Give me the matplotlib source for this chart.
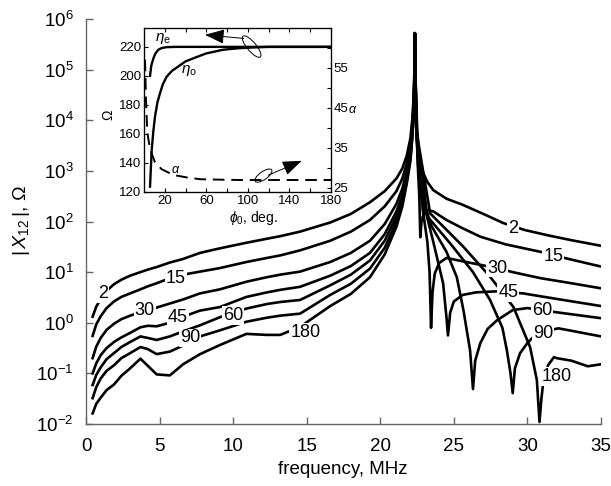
import numpy as np
import matplotlib
matplotlib.use("Agg")
import matplotlib.pyplot as plt
from matplotlib.patches import Ellipse
from matplotlib.transforms import ScaledTranslation
from matplotlib.ticker import FixedLocator, NullLocator, LogLocator

plt.rcParams['font.family'] = ['Liberation Sans', 'DejaVu Sans']
plt.rcParams['mathtext.fontset'] = 'custom'
plt.rcParams['mathtext.rm'] = 'Liberation Sans'
plt.rcParams['mathtext.it'] = 'Liberation Sans:italic'
plt.rcParams['mathtext.bf'] = 'Liberation Sans:bold'

# ---------------- data (frequency in MHz, log10 |X12| in log10 Ohm) -------------
angles = ["2", "15", "30", "45", "60", "90", "180"]

freq_left = [0.45, 0.7, 1.0, 1.4, 1.9, 2.4, 3.0, 3.7, 4.2, 4.8, 5.7, 6.6, 7.75, 9.1,
             10.9, 12.3, 13.2, 14.55, 16.6, 18.0, 19.3, 20.3, 21.1, 21.5, 21.8,
             22.05, 22.2, 22.3, 22.35]

log_left_2 = [0.12, 0.32, 0.47, 0.63, 0.76, 0.85, 0.93, 1.0, 1.05, 1.1, 1.19, 1.26, 1.38,
              1.47, 1.58, 1.66, 1.71, 1.80, 1.98, 2.15, 2.38, 2.6, 2.85, 3.05, 3.3, 3.65,
              4.1, 4.7, 5.72]
log_left_15 = [-0.26, -0.03, 0.13, 0.29, 0.42, 0.51, 0.58, 0.66, 0.72, 0.78, 0.88, 0.95,
               1.01, 1.08, 1.2, 1.28, 1.33, 1.43, 1.62, 1.80, 2.03, 2.3, 2.6, 2.85,
               3.15, 3.5, 4.0, 4.6, 5.72]
log_left_30 = [-0.70, -0.47, -0.30, -0.14, -0.02, 0.07, 0.14, 0.21, 0.25, 0.30, 0.38,
               0.46, 0.58, 0.66, 0.81, 0.90, 0.95, 1.01, 1.20, 1.38, 1.62, 1.95, 2.35,
               2.65, 3.0, 3.4, 3.9, 4.55, 5.72]
log_left_45 = [-1.0, -0.8, -0.64, -0.5, -0.38, -0.29, -0.2, -0.09, -0.06, -0.07, 0.0,
               0.12, 0.24, 0.31, 0.51, 0.60, 0.65, 0.71, 0.93, 1.12, 1.38, 1.75, 2.2,
               2.52, 2.9, 3.35, 3.85, 4.5, 5.72]
log_left_60 = [-1.23, -1.03, -0.88, -0.72, -0.6, -0.48, -0.38, -0.27, -0.3, -0.34,
               -0.27, -0.17, -0.05, 0.11, 0.28, 0.37, 0.41, 0.45, 0.74, 0.95, 1.23,
               1.62, 2.1, 2.45, 2.85, 3.3, 3.8, 4.5, 5.72]
log_left_90 = [-1.49, -1.27, -1.1, -0.95, -0.84, -0.7, -0.6, -0.48, -0.52, -0.62, -0.57,
               -0.45, -0.27, -0.15, 0.02, 0.10, 0.14, 0.18, 0.55, 0.77, 1.07, 1.48,
               2.0, 2.38, 2.8, 3.25, 3.8, 4.5, 5.72]
log_left_180 = [-1.79, -1.6, -1.48, -1.33, -1.22, -1.05, -0.9, -0.71, -0.85, -1.02,
                -1.04, -0.82, -0.62, -0.44, -0.22, -0.24, -0.24, -0.08, 0.33, 0.57,
                0.9, 1.35, 1.9, 2.3, 2.75, 3.2, 3.75, 4.45, 5.72]

freq_right_2 = [22.42, 22.5, 22.6, 22.82, 23.2, 23.6, 24.5, 25.6, 27.0, 28.35, 29.84,
                31.5, 33.0, 35.0]
log_right_2 = [4.5, 3.9, 3.4, 3.02, 2.78, 2.62, 2.45, 2.33, 2.15, 1.97, 1.83, 1.72,
               1.63, 1.52]
freq_right_15 = [22.45, 22.55, 22.65, 22.72, 22.8, 22.95, 23.16, 23.6, 24.5, 25.5, 26.8,
                 28.5, 30.9, 32.8, 35.0]
log_right_15 = [3.9, 3.1, 2.5, 1.69, 2.0, 2.15, 2.23, 2.2, 2.03, 1.88, 1.70, 1.55, 1.40,
                1.26, 1.11]
freq_right_30 = [22.45, 22.6, 22.9, 23.2, 23.35, 23.45, 23.55, 23.7, 24.0, 24.5, 25.5,
                 27.9, 29.0, 30.9, 33.0, 35.0]
log_right_30 = [3.85, 3.0, 2.2, 1.6, 1.0, -0.1, 0.6, 0.97, 1.18, 1.28, 1.22, 1.08, 1.0,
                0.88, 0.78, 0.68]
freq_right_45 = [22.45, 22.6, 23.0, 23.6, 24.27, 24.5, 24.6, 24.75, 25.0, 25.6, 26.5,
                 27.9, 29.7, 32.0, 35.0]
log_right_45 = [3.85, 3.0, 2.3, 1.6, 0.78, 0.1, -0.25, 0.2, 0.42, 0.55, 0.6, 0.62, 0.58,
                0.47, 0.33]
freq_right_60 = [22.45, 22.8, 23.5, 24.5, 25.2, 25.65, 26.1, 26.3, 26.45, 26.8, 27.3,
                 27.94, 29.0, 30.0, 31.9, 35.0]
log_right_60 = [3.8, 2.5, 1.9, 1.4, 0.9, 0.25, -0.54, -1.31, -0.75, -0.4, -0.12, 0.05,
                0.25, 0.29, 0.21, 0.09]
freq_right_90 = [22.45, 23.2, 24.8, 26.3, 27.46, 28.3, 28.6, 28.85, 29.0, 29.15, 29.5,
                 30.0, 30.5, 31.0, 32.1, 33.2, 35.0]
log_right_90 = [3.8, 2.1, 1.55, 1.0, 0.45, -0.1, -0.54, -1.0, -1.39, -0.9, -0.6, -0.40,
                -0.25, -0.18, -0.11, -0.17, -0.27]
freq_right_180 = [22.45, 23.39, 25.65, 27.46, 29.05, 30.18, 30.64, 30.82, 30.95, 31.07,
                  31.4, 31.8, 32.0, 33.0, 34.1, 35.0]
log_right_180 = [3.8, 2.16, 1.50, 0.91, 0.31, -0.48, -1.13, -1.96, -1.5, -1.19, -0.84,
                 -0.68, -0.70, -0.75, -0.86, -0.82]

left_logs = [log_left_2, log_left_15, log_left_30, log_left_45, log_left_60,
             log_left_90, log_left_180]
right_freqs = [freq_right_2, freq_right_15, freq_right_30, freq_right_45,
               freq_right_60, freq_right_90, freq_right_180]
right_logs = [log_right_2, log_right_15, log_right_30, log_right_45, log_right_60,
              log_right_90, log_right_180]

# inset data
phi_e = [5.8, 7, 9, 11, 13.8, 17, 21.8, 30, 50, 100, 180]
eta_e = [200, 207, 212, 215.5, 218, 219.2, 219.8, 220, 220, 220, 220]
phi_o = [5.8, 7.4, 9, 10.6, 13, 15.4, 18, 21.8, 27, 33, 40, 50.7, 60, 76, 90, 102, 120, 180]
eta_o = [123.7, 149, 162, 172, 182, 188, 194, 199.5, 203.5, 206.5, 210, 213, 215.5, 218,
         219, 219.5, 220, 220]
phi_a = [1, 1.9, 3.2, 5.8, 10.6, 17, 24, 31.5, 42, 54, 70, 92, 180]
alpha = [57.1, 47.1, 38.9, 34.7, 31.4, 29.7, 28.8, 28.1, 27.6, 27.2, 27.1, 27.0, 27.0]

# curve label placements (freq, log10 value)
left_label_pos = [(1.16, 0.58), (6.12, 0.88), (4.0, 0.25), (6.25, 0.11), (10.0, 0.15),
                  (7.07, -0.30), (14.9, -0.19)]
right_label_pos = [(29.0, 1.87), (31.75, 1.30), (27.94, 1.08), (28.7, 0.60), (31.0, 0.25),
                   (31.07, -0.21), (32.0, -1.06)]

# ---------------- figure -------------
W, H = 611, 486
fig = plt.figure(figsize=(W / 100, H / 100), dpi=100)
ax = fig.add_axes([86 / W, 1 - 424 / H, (601 - 86) / W, (424 - 19) / H])

for i, name in enumerate(angles):
    f = list(freq_left) + list(right_freqs[i])
    lg = list(left_logs[i]) + list(right_logs[i])
    ax.plot(f, 10.0 ** np.array(lg), color='black', lw=1.9, solid_joinstyle='round',
            zorder=2)

bbox = dict(boxstyle='square,pad=0.05', fc='white', ec='none')
for i, name in enumerate(angles):
    for (fx, lv) in (left_label_pos[i], right_label_pos[i]):
        ax.text(fx, 10.0 ** lv, name, fontsize=13, ha='center', va='center',
                bbox=bbox, zorder=3)

ax.set_yscale('log')
ax.set_xlim(0, 35)
ax.set_ylim(1e-2, 1e6)
ax.xaxis.set_major_locator(FixedLocator([0, 5, 10, 15, 20, 25, 30, 35]))
ax.yaxis.set_major_locator(LogLocator(base=10, numticks=20))
ax.yaxis.set_minor_locator(NullLocator())
for s in ['top', 'right']:
    ax.spines[s].set_visible(False)
for s in ['left', 'bottom']:
    ax.spines[s].set_color('#666666')
    ax.spines[s].set_linewidth(1.0)
ax.tick_params(axis='both', direction='in', length=5, width=1.0, color='#666666',
               labelsize=13.5)
ax.tick_params(axis='x', pad=10)
ax.tick_params(axis='y', pad=9)

fig.text(343 / W, 1 - 469 / H, 'frequency, MHz', fontsize=13.5, ha='center', va='center')
fig.text(22 / W, 1 - 221 / H, r'$|\,X_{12}\,|$, Ω', fontsize=14, ha='center', va='center',
         rotation=90)

# ---------------- inset -------------
axi = fig.add_axes([144 / W, 1 - 192 / H, (331 - 144) / W, (192 - 28) / H])
axi.plot(phi_e, eta_e, color='black', lw=1.7)
axi.plot(phi_o, eta_o, color='black', lw=1.7)
axi.set_xlim(0, 180)
axi.set_ylim(120, 233)
axi.set_xticks([20, 40, 60, 80, 100, 120, 140, 160, 180])
axi.set_xticklabels(['20', '', '60', '', '100', '', '140', '', '180'])
axi.set_yticks([120, 140, 160, 180, 200, 220])
axi.tick_params(axis='both', direction='in', length=3, width=0.8, labelsize=9.5, pad=2,
                top=True)
for s in axi.spines.values():
    s.set_linewidth(0.9)

axr = axi.twinx()
axr.plot(phi_a, alpha, color='black', lw=1.4, linestyle=(0, (6, 3.5)))
axr.set_ylim(24, 65)
axr.set_yticks([25, 35, 45, 55])
axr.set_yticks([30, 40, 50, 60], minor=True)
axr.tick_params(axis='y', which='both', direction='in', length=3, width=0.8,
                labelsize=9.5, pad=2)

axi.text(18, 225.5, r'$\eta_{\rm e}$', fontsize=11, ha='center', va='center')
axi.text(43, 204, r'$\eta_{\rm o}$', fontsize=11, ha='center', va='center')
axr.text(31, 29.6, r'$\alpha$', fontsize=9, ha='center', va='center')

axi.annotate('', xy=(58.7, 228.3), xytext=(96, 225.8),
             arrowprops=dict(arrowstyle='-|>,head_length=1.2,head_width=0.45',
                             mutation_scale=10, lw=0.7, color='black', fc='black',
                             shrinkA=0, shrinkB=0))
axr.annotate('', xy=(151.8, 31.8), xytext=(119.6, 28.2),
             arrowprops=dict(arrowstyle='-|>,head_length=1.2,head_width=0.45',
                             mutation_scale=10, lw=0.7, color='black', fc='black',
                             shrinkA=0, shrinkB=0))

e1 = Ellipse((0, 0), 27 / 100, 9 / 100, angle=-50, fill=False, ec='black', lw=0.7,
             transform=fig.dpi_scale_trans + ScaledTranslation(103.6, 220.2, axi.transData))
axi.add_patch(e1)
e2 = Ellipse((0, 0), 20 / 100, 8 / 100, angle=35, fill=False, ec='black', lw=0.7,
             transform=fig.dpi_scale_trans + ScaledTranslation(115, 28.1, axr.transData))
axr.add_patch(e2)

fig.text(108 / W, 1 - 115 / H, 'Ω', fontsize=10, ha='center', va='center', rotation=90)
fig.text(353 / W, 1 - 110 / H, r'$\alpha$', fontsize=9, ha='center', va='center')
fig.text(253 / W, 1 - 218 / H, r'$\phi_0$, deg.', fontsize=10, ha='center', va='center')

fig.savefig('out.png', dpi=100)
